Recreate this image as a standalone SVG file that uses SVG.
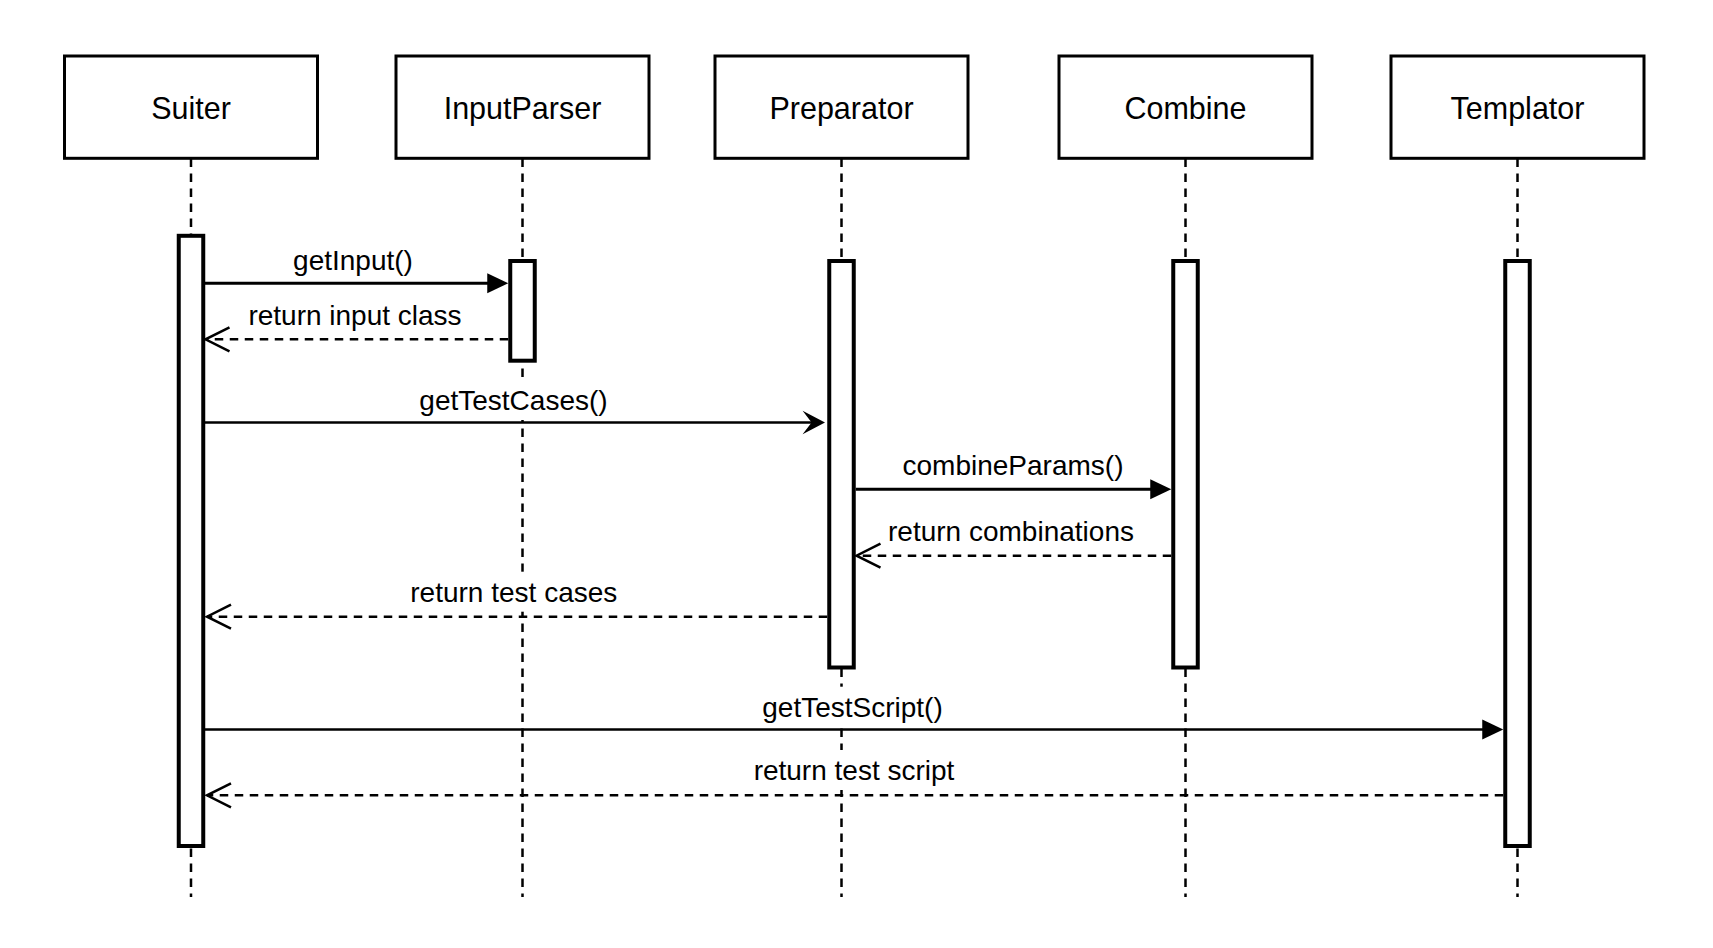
<svg xmlns="http://www.w3.org/2000/svg" width="1713" height="948" viewBox="0 0 1713 948">
  <style>
    .box { fill: #ffffff; stroke: #000000; stroke-width: 3; }
    .act { fill: #ffffff; stroke: #000000; stroke-width: 4; }
    .life { fill: none; stroke: #000000; stroke-width: 2.5; stroke-dasharray: 8.5 6.5; }
    .name { font-family: "Liberation Sans", Arial, Helvetica, sans-serif; font-size: 30.5px; fill: #000000; text-anchor: middle; }
    .lbl { font-family: "Liberation Sans", Arial, Helvetica, sans-serif; font-size: 28px; fill: #000000; text-anchor: middle; }
    .lblbg { fill: #ffffff; stroke: none; }
    .call { fill: none; stroke: #000000; stroke-width: 3; }
    .callthin { fill: none; stroke: #000000; stroke-width: 2.5; }
    .ret { fill: none; stroke: #000000; stroke-width: 2.5; stroke-dasharray: 8.5 6.5; }
  </style>
  <defs>
    <marker id="tri" markerUnits="userSpaceOnUse" markerWidth="24" markerHeight="24" refX="11" refY="12" orient="auto" overflow="visible">
      <path d="M0,2 L21,12 L0,22 Z" fill="#000000" stroke="none"/>
    </marker>
    <marker id="classic" markerUnits="userSpaceOnUse" markerWidth="24" markerHeight="24" refX="12.4" refY="12" orient="auto" overflow="visible">
      <path d="M0,0.3 L22.4,12 L0,23.7 L9,12 Z" fill="#000000" stroke="none"/>
    </marker>
    <marker id="open" markerUnits="userSpaceOnUse" markerWidth="26" markerHeight="26" refX="24" refY="12" orient="auto" overflow="visible">
      <path d="M0,0 L24,12 L0,24" fill="none" stroke="#000000" stroke-width="2.5"/>
    </marker>
  </defs>
  <rect width="1713" height="948" fill="#ffffff"/>

  <g id="suiter">
    <line class="life" x1="191" y1="158.5" x2="191" y2="897"/>
    <rect class="box" x="64.5" y="56" width="253" height="102.3"/>
    <text class="name" x="191" y="119">Suiter</text>
    <rect class="act" x="178.75" y="235.8" width="24.5" height="610.2"/>
  </g>
  <g id="inputparser">
    <line class="life" x1="522.5" y1="158.5" x2="522.5" y2="897"/>
    <rect class="box" x="396" y="56" width="253" height="102.3"/>
    <text class="name" x="522.5" y="119">InputParser</text>
    <rect class="act" x="510.25" y="261" width="24.5" height="99.7"/>
  </g>
  <g id="preparator">
    <line class="life" x1="841.5" y1="158.5" x2="841.5" y2="897"/>
    <rect class="box" x="715" y="56" width="253" height="102.3"/>
    <text class="name" x="841.5" y="119">Preparator</text>
    <rect class="act" x="829.25" y="261" width="24.5" height="406.5"/>
  </g>
  <g id="combine">
    <line class="life" x1="1185.5" y1="158.5" x2="1185.5" y2="897"/>
    <rect class="box" x="1059" y="56" width="253" height="102.3"/>
    <text class="name" x="1185.5" y="119">Combine</text>
    <rect class="act" x="1173.25" y="261" width="24.5" height="406.5"/>
  </g>
  <g id="templator">
    <line class="life" x1="1517.5" y1="158.5" x2="1517.5" y2="897"/>
    <rect class="box" x="1391" y="56" width="253" height="102.3"/>
    <text class="name" x="1517.5" y="119">Templator</text>
    <rect class="act" x="1505.25" y="261" width="24.5" height="585"/>
  </g>

  <g id="connectors">
    <g id="msg-getInput">
      <line class="call" x1="205" y1="283.3" x2="498.25" y2="283.3" marker-end="url(#tri)"/>
      <rect class="lblbg" x="291" y="240" width="124" height="40"/>
      <text class="lbl" x="353" y="270">getInput()</text>
    </g>
    <g id="msg-returnInputClass">
      <line class="ret" x1="508.25" y1="339.3" x2="205.5" y2="339.3" marker-end="url(#open)"/>
      <rect class="lblbg" x="262" y="295" width="186" height="40"/>
      <text class="lbl" x="355" y="325">return input class</text>
    </g>
    <g id="msg-getTestCases">
      <line class="callthin" x1="205" y1="422.5" x2="815" y2="422.5" marker-end="url(#classic)"/>
      <rect class="lblbg" x="416" y="380" width="195" height="40"/>
      <text class="lbl" x="513.5" y="410">getTestCases()</text>
    </g>
    <g id="msg-combineParams">
      <line class="call" x1="855.75" y1="489.3" x2="1161.25" y2="489.3" marker-end="url(#tri)"/>
      <rect class="lblbg" x="900" y="445" width="226" height="40"/>
      <text class="lbl" x="1013" y="475">combineParams()</text>
    </g>
    <g id="msg-returnCombinations">
      <line class="ret" x1="1171.25" y1="555.7" x2="856.5" y2="555.7" marker-end="url(#open)"/>
      <rect class="lblbg" x="885" y="510.7" width="252" height="40"/>
      <text class="lbl" x="1011" y="540.7">return combinations</text>
    </g>
    <g id="msg-returnTestCases">
      <line class="ret" x1="827.25" y1="616.7" x2="207" y2="616.7" marker-end="url(#open)"/>
      <rect class="lblbg" x="406" y="571.7" width="216" height="40"/>
      <text class="lbl" x="513.8" y="601.7">return test cases</text>
    </g>
    <g id="msg-getTestScript">
      <line class="callthin" x1="205" y1="729.5" x2="1493.25" y2="729.5" marker-end="url(#tri)"/>
      <rect class="lblbg" x="759" y="686.7" width="187" height="40"/>
      <text class="lbl" x="852.5" y="716.7">getTestScript()</text>
    </g>
    <g id="msg-returnTestScript">
      <line class="ret" x1="1503.25" y1="795.3" x2="207" y2="795.3" marker-end="url(#open)"/>
      <rect class="lblbg" x="751" y="750" width="206" height="40"/>
      <text class="lbl" x="854" y="780">return test script</text>
    </g>
  </g>
</svg>
